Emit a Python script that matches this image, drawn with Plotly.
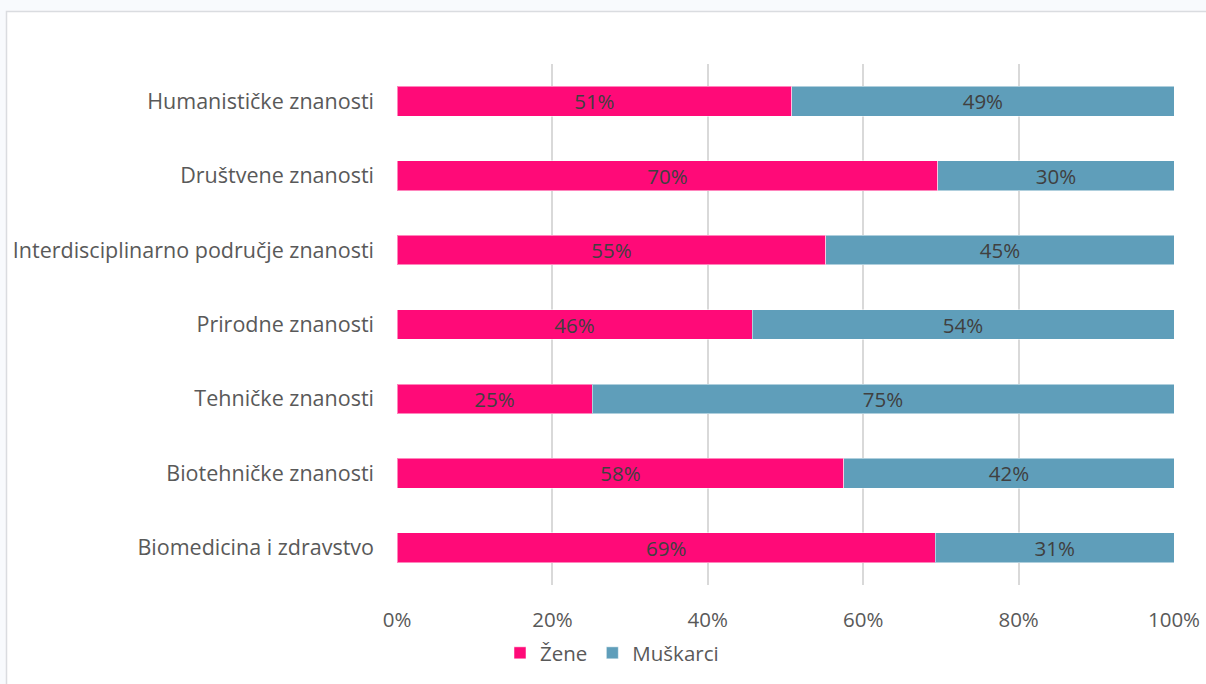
import plotly.graph_objects as go

categories = [
    "Humanističke znanosti",
    "Društvene znanosti",
    "Interdisciplinarno područje znanosti",
    "Prirodne znanosti",
    "Tehničke znanosti",
    "Biotehničke znanosti",
    "Biomedicina i zdravstvo",
]
zene = [50.8, 69.6, 55.2, 45.7, 25.1, 57.5, 69.3]
muskarci = [49.2, 30.4, 44.8, 54.3, 74.9, 42.5, 30.7]
zene_labels = ["51%", "70%", "55%", "46%", "25%", "58%", "69%"]
muskarci_labels = ["49%", "30%", "45%", "54%", "75%", "42%", "31%"]
tick_vals = [0, 20, 40, 60, 80, 100]
tick_text = ["0%", "20%", "40%", "60%", "80%", "100%"]

FONT = "Open Sans"
W, H = 1206, 684
L, R, T, B = 397, 32, 64, 99
pw = W - L - R
ph = H - T - B

fig = go.Figure()
fig.add_trace(go.Bar(
    y=categories, x=zene, name="Žene", orientation="h",
    marker=dict(color="#FF0A78", line=dict(color="rgba(255,255,255,0.5)", width=1)),
    text=zene_labels, textposition="inside", insidetextanchor="middle",
    constraintext="none", cliponaxis=False,
    textfont=dict(family=FONT, size=20.5, color="#404040"),
))
fig.add_trace(go.Bar(
    y=categories, x=muskarci, name="Muškarci", orientation="h",
    marker=dict(color="#5F9EBA", line=dict(color="rgba(255,255,255,0.5)", width=1)),
    text=muskarci_labels, textposition="inside", insidetextanchor="middle",
    constraintext="none", cliponaxis=False,
    textfont=dict(family=FONT, size=20.5, color="#404040"),
))

def px_x(p):
    return (p - L) / pw

def px_y(p):
    return (H - B - p) / ph

fig.add_shape(type="rect", xref="paper", yref="paper",
              x0=px_x(6.5), x1=px_x(1230), y0=px_y(11.5), y1=px_y(720),
              line=dict(color="#DADCE0", width=1.5), fillcolor="white", layer="below")

fig.update_layout(
    width=W, height=H,
    margin=dict(l=L, r=R, t=T, b=B, pad=0, autoexpand=False),
    barmode="stack", bargap=0.6,
    paper_bgcolor="#F8FAFD", plot_bgcolor="rgba(0,0,0,0)",
    font=dict(family=FONT, color="#595959", size=20.5),
    xaxis=dict(range=[0, 100], tickvals=tick_vals, ticktext=tick_text,
               showgrid=True, gridcolor="#D9D9D9", gridwidth=2,
               zeroline=False, showline=False, ticks="", automargin=False,
               tickfont=dict(family=FONT, size=20.5, color="#595959"),
               ticklabelstandoff=20, fixedrange=True),
    yaxis=dict(autorange="reversed", showgrid=False, ticks="", showline=False,
               automargin=False,
               tickfont=dict(family=FONT, size=21.5, color="#595959"),
               ticklabelstandoff=22, fixedrange=True),
    legend=dict(orientation="h", x=px_x(500), xanchor="left", y=px_y(653), yanchor="middle",
                font=dict(family=FONT, size=20.5, color="#595959"),
                bgcolor="rgba(0,0,0,0)", traceorder="normal",
                itemwidth=30),
    showlegend=True,
)

fig.write_html("out.html", config=dict(displayModeBar=False))
with open("out.html", "r", encoding="utf-8") as f:
    html = f.read()
html = html.replace("<head>", "<head><style>html,body{margin:0;padding:0;overflow:hidden;}</style>", 1)
with open("out.html", "w", encoding="utf-8") as f:
    f.write(html)
